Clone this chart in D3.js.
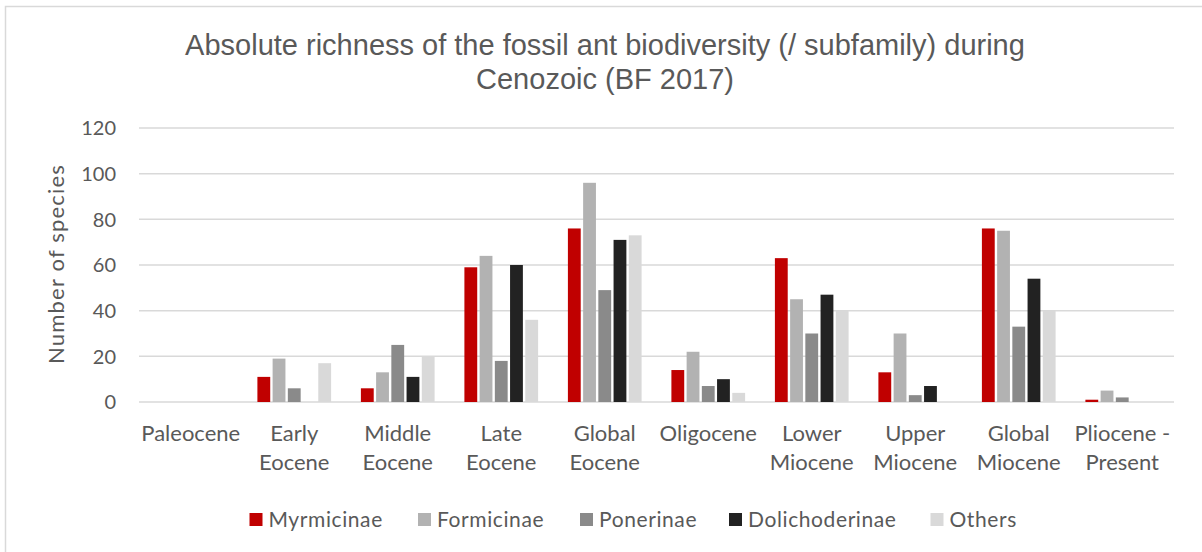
<!DOCTYPE html>
<html>
<head>
<meta charset="utf-8">
<script src="https://cdn.jsdelivr.net/npm/d3@7"></script>
<style>
  body { margin: 0; background: #fff; }
  svg text { font-family: Lato, "Open Sans", sans-serif; fill: #595959; }
</style>
</head>
<body>
<svg id="chart" width="1202" height="552"></svg>
<script>
const periods = [
  ["Paleocene"], ["Early", "Eocene"], ["Middle", "Eocene"], ["Late", "Eocene"],
  ["Global", "Eocene"], ["Oligocene"], ["Lower", "Miocene"], ["Upper", "Miocene"],
  ["Global", "Miocene"], ["Pliocene -", "Present"]
]
const subfamilies = ["Myrmicinae", "Formicinae", "Ponerinae", "Dolichoderinae", "Others"]
const colors = ["#c00000", "#b2b2b2", "#8a8a8a", "#222222", "#d9d9d9"]

const myrmicinae     = [0, 11, 6, 59, 76, 14, 63, 13, 76, 1]
const formicinae     = [0, 19, 13, 64, 96, 22, 45, 30, 75, 5]
const ponerinae      = [0, 6, 25, 18, 49, 7, 30, 3, 33, 2]
const dolichoderinae = [0, 0, 11, 60, 71, 10, 47, 7, 54, 0]
const others         = [0, 17, 20, 36, 73, 4, 40, 0, 40, 0]
const yTicks = [0, 20, 40, 60, 80, 100, 120]

const seriesValues = [myrmicinae, formicinae, ponerinae, dolichoderinae, others]

const svg = d3.select("#chart")

// outer chart frame (runs off the right and bottom of the picture)
svg.append("rect")
  .attr("x", 5.5).attr("y", 6.5)
  .attr("width", 1220).attr("height", 580)
  .attr("fill", "none")
  .attr("stroke", "#d9d9d9")
  .attr("stroke-width", 1.5)

const plotLeft = 139, plotRight = 1174, plotTop = 128, plotBottom = 402

const x = d3.scaleBand()
  .domain(d3.range(periods.length))
  .range([plotLeft, plotRight])

const xSub = d3.scaleBand()
  .domain(subfamilies)
  .range([0, x.bandwidth()])
  .paddingOuter(0.9)

const y = d3.scaleLinear()
  .domain([0, 120])
  .range([plotBottom, plotTop])

// gridlines
svg.append("g")
  .selectAll("line")
  .data(yTicks)
  .join("line")
  .attr("x1", plotLeft)
  .attr("x2", plotRight)
  .attr("y1", d => y(d))
  .attr("y2", d => y(d))
  .attr("stroke", "#d9d9d9")
  .attr("stroke-width", 1.5)

// y tick labels
svg.append("g")
  .selectAll("text")
  .data(yTicks)
  .join("text")
  .attr("x", 116)
  .attr("y", d => y(d))
  .attr("dy", "0.36em")
  .attr("text-anchor", "end")
  .attr("font-size", 20)
  .text(d => d)

// bars
const bars = []
seriesValues.forEach((vals, s) => {
  vals.forEach((v, i) => {
    bars.push({ i, key: subfamilies[s], value: v, color: colors[s] })
  })
})

svg.append("g")
  .selectAll("rect")
  .data(bars.filter(d => d.value > 0))
  .join("rect")
  .attr("x", d => x(d.i) + xSub(d.key) + 1.2)
  .attr("width", xSub.bandwidth() - 2.4)
  .attr("y", d => y(d.value))
  .attr("height", d => y(0) - y(d.value))
  .attr("fill", d => d.color)

// category labels
const catLabels = svg.append("g")
  .selectAll("text")
  .data(periods)
  .join("text")
  .attr("text-anchor", "middle")
  .attr("font-size", 22)
  .attr("x", (d, i) => x(i) + x.bandwidth() / 2)
  .attr("y", 441)

catLabels.selectAll("tspan")
  .data(d => d)
  .join("tspan")
  .attr("x", function () { return d3.select(this.parentNode).attr("x") })
  .attr("dy", (d, j) => j === 0 ? 0 : 28.5)
  .text(d => d)

// y axis title
svg.append("text")
  .attr("transform", "translate(64,264) rotate(-90)")
  .attr("text-anchor", "middle")
  .attr("font-size", 22)
  .attr("letter-spacing", 1.2)
  .text("Number of species")

// title
const title = svg.append("text")
  .attr("text-anchor", "middle")
  .attr("font-size", 29)
  .style("font-family", "'Liberation Sans', Arial, sans-serif")

title.append("tspan")
  .attr("x", 605).attr("y", 55)
  .text("Absolute richness of the fossil ant biodiversity (/ subfamily) during")
title.append("tspan")
  .attr("x", 605).attr("y", 89)
  .text("Cenozoic (BF 2017)")

// legend
const legendX = [249.5, 418, 580, 729, 930.5]
const legend = svg.append("g")
  .selectAll("g")
  .data(subfamilies)
  .join("g")
  .attr("transform", (d, i) => `translate(${legendX[i]},527)`)

legend.append("rect")
  .attr("x", 0).attr("y", -14)
  .attr("width", 13).attr("height", 13)
  .attr("fill", (d, i) => colors[i])

legend.append("text")
  .attr("x", 19)
  .attr("font-size", 21)
  .attr("letter-spacing", 0.6)
  .text(d => d)
</script>
</body>
</html>
